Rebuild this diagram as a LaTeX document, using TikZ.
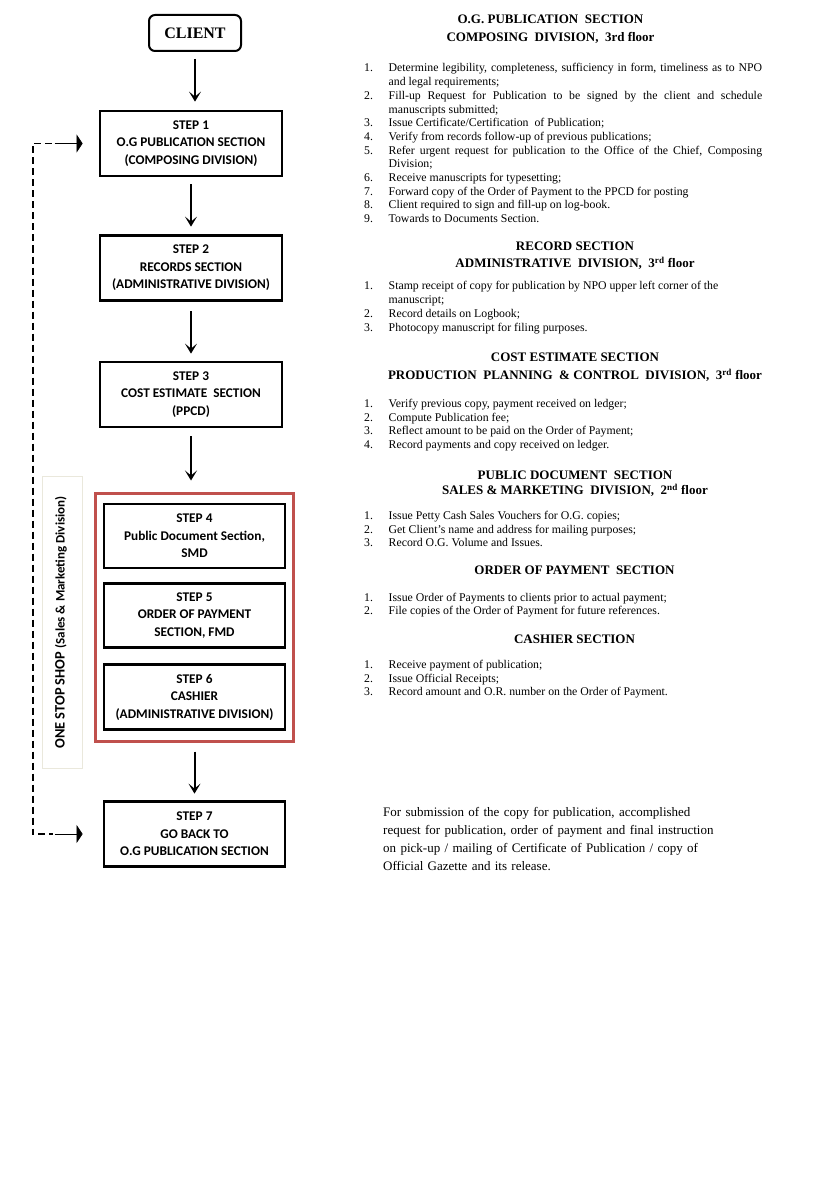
\documentclass[tikz,border=0pt]{standalone}
\usepackage{fontspec}
\setmainfont{Liberation Serif}
\newfontfamily\calfont{Carlito}
\usetikzlibrary{arrows.meta,positioning}

\definecolor{shopred}{RGB}{192,80,77}
\definecolor{tagline}{RGB}{234,232,220}

\hyphenpenalty=10000
\exhyphenpenalty=10000
\tolerance=9999

\newcommand\itm[2]{\noindent\hangindent=24.5pt\hangafter=1\makebox[24.5pt][l]{#1}#2\par}

\tikzset{
  stepbox/.style={draw, line width=2.8pt, minimum width=182pt, minimum height=65pt,
    inner sep=0pt, align=center, font=\calfont\bfseries\fontsize{13.3}{17.5}\selectfont},
  flow/.style={line width=2pt, -{Stealth[length=10pt,width=12pt,inset=5pt]}},
  backline/.style={line width=1.8pt, dash pattern=on 7pt off 4pt},
  backtip/.style={line width=0.6pt, -{Triangle[length=6pt,width=18pt]}},
  headline/.style={anchor=base, inner sep=0pt, font=\bfseries\fontsize{13}{15}\selectfont},
  steplist/.style={anchor=base west, inner sep=0pt, text width=398pt, align=justify,
    font=\fontsize{11.8}{13.7}\selectfont},
}

\begin{document}
\begin{tikzpicture}[x=1pt, y=-1pt]
  \useasboundingbox (0,0) rectangle (814,1182);

  \node[draw, rounded corners=6pt, line width=2pt, minimum width=92pt, minimum height=36pt,
    font=\bfseries\fontsize{16}{18}\selectfont] (client) at (195,33) {CLIENT};

  \node[stepbox] (step1) at (191,143.5) {STEP\ 1\\O.G PUBLICATION SECTION\\(COMPOSING DIVISION)};
  \node[stepbox] (step2) at (191,268) {STEP\ 2\\RECORDS SECTION\\(ADMINISTRATIVE DIVISION)};
  \node[stepbox] (step3) at (191,394.5) {STEP\ 3\\COST ESTIMATE\ \ SECTION\\(PPCD)};

  \node[draw=shopred, line width=3pt, minimum width=198pt, minimum height=248pt] (shop) at (194.5,617.5) {};
    \node[stepbox, minimum width=181pt, minimum height=64pt] (step4) at (194.5,536) {STEP\ 4\\Public Document Section,\\SMD};
    \node[stepbox, minimum width=181pt, minimum height=64pt] (step5) at (194.5,615.5) {STEP\ 5\\ORDER OF PAYMENT\\SECTION, FMD};
    \node[stepbox, minimum width=181pt, minimum height=65pt] (step6) at (194.5,697) {STEP\ 6\\CASHIER\\(ADMINISTRATIVE DIVISION)};

  \node[stepbox, minimum width=181pt, minimum height=65pt] (step7) at (194.5,834) {STEP\ 7\\GO BACK TO\\O.G PUBLICATION SECTION};

  \node[draw=tagline, line width=0.8pt, minimum width=40pt, minimum height=292pt] (tagbox) at (62.7,622) {};
  \node[rotate=90, inner sep=0pt, font=\calfont\bfseries\fontsize{14.4}{16}\selectfont] (tag) at (61,622.5)
    {ONE STOP SHOP {\fontsize{13}{15}\selectfont(Sales \& Marketing Division)}};

  \draw[flow, shorten <=7pt, shorten >=8pt] (client.south) -- (client.south |- step1.north);
  \draw[flow, shorten <=7pt, shorten >=7.5pt] (step1) -- (step2);
  \draw[flow, shorten <=9.5pt, shorten >=7pt] (step2) -- (step3);
  \draw[flow, shorten <=8pt, shorten >=11.5pt] (step3.south) -- (step3.south |- shop.north);
  \draw[flow, shorten <=8.5pt, shorten >=6.5pt] (shop) -- (step7);

  \draw[backline] ([xshift=-47pt]step1.west) -- ([xshift=-66pt]step1.west) |- ([xshift=-50pt]step7.west);
  \draw[backtip] ([xshift=-44pt]step1.west) -- ([xshift=-16pt]step1.west);
  \draw[backtip] ([xshift=-48pt]step7.west) -- ([xshift=-20pt]step7.west);

  % right column
  \node[headline] (ogtitle) at (550.5,23.5) {O.G. PUBLICATION\ \ SECTION};
  \node[headline] (ogfloor) at (550.5,41.5) {COMPOSING\ \ DIVISION,\ \ 3rd floor};
  \node[steplist] (oglist) at (364,72) {%
    \itm{1.}{Determine legibility, completeness, sufficiency in form, timeliness as to NPO\linebreak and legal requirements;}
    \itm{2.}{Fill-up Request for Publication to be signed by the client and schedule\linebreak manuscripts submitted;}
    \itm{3.}{Issue Certificate/Certification\ \ of Publication;}
    \itm{4.}{Verify from records follow-up of previous publications;}
    \itm{5.}{Refer urgent request for publication to the Office of the Chief, Composing\linebreak Division;}
    \itm{6.}{Receive manuscripts for typesetting;}
    \itm{7.}{Forward copy of the Order of Payment to the PPCD for posting}
    \itm{8.}{Client required to sign and fill-up on log-book.}
    \itm{9.}{Towards to Documents Section.}};

  \node[headline] (rectitle) at (575,251) {RECORD SECTION};
  \node[headline] (recfloor) at (575,267.5) {ADMINISTRATIVE\ \ DIVISION,\ \ 3\textsuperscript{rd} floor};
  \node[steplist, font=\fontsize{11.8}{14}\selectfont] (reclist) at (364,289.5) {%
    \itm{1.}{Stamp receipt of copy for publication\ by NPO upper left corner of the\newline manuscript;}
    \itm{2.}{Record details\ on Logbook;}
    \itm{3.}{Photocopy manuscript\ for filing purposes.}};

  \node[headline] (costtitle) at (575,361) {COST ESTIMATE SECTION};
  \node[headline] (costfloor) at (575,379.5) {PRODUCTION\ \ PLANNING\ \ \& CONTROL\ \ DIVISION,\ \ 3\textsuperscript{rd} floor};
  \node[steplist] (costlist) at (364,407.5) {%
    \itm{1.}{Verify previous\ copy, payment received\ on ledger;}
    \itm{2.}{Compute Publication\ fee;}
    \itm{3.}{Reflect amount to be paid on the Order of\ Payment;}
    \itm{4.}{Record payments\ and copy received\ on ledger.}};

  \node[headline] (pubtitle) at (575,479.5) {PUBLIC DOCUMENT\ \ SECTION};
  \node[headline] (pubfloor) at (575,494.5) {SALES \& MARKETING\ \ DIVISION,\ \ 2\textsuperscript{nd} floor};
  \node[steplist] (publist) at (364,519.5) {%
    \itm{1.}{Issue Petty Cash Sales\ Vouchers for O.G. copies;}
    \itm{2.}{Get Client’s\ name and address for mailing purposes;}
    \itm{3.}{Record O.G. Volume and Issues.}};

  \node[headline] (ordertitle) at (574.5,574.5) {ORDER\ OF PAYMENT\ \ SECTION};
  \node[steplist] (orderlist) at (364,601) {%
    \itm{1.}{Issue Order of Payments to clients prior to actual payment;}
    \itm{2.}{File copies of the Order of Payment for future references.}};

  \node[headline] (cashtitle) at (574.5,643.5) {CASHIER\ SECTION};
  \node[steplist] (cashlist) at (364,668.5) {%
    \itm{1.}{Receive\ payment of publication;}
    \itm{2.}{Issue Official Receipts;}
    \itm{3.}{Record amount and O.R. number on the Order of Payment.}};

  \node[anchor=base west, inner sep=0pt, text width=360pt, font=\fontsize{13}{18}\selectfont] (release) at (383,816) {%
    For submission of the copy for publication, accomplished\\
    request for publication, order of payment and final instruction\\
    on pick-up / mailing of Certificate of Publication / copy of\\
    Official Gazette and its release.};

\end{tikzpicture}
\end{document}
